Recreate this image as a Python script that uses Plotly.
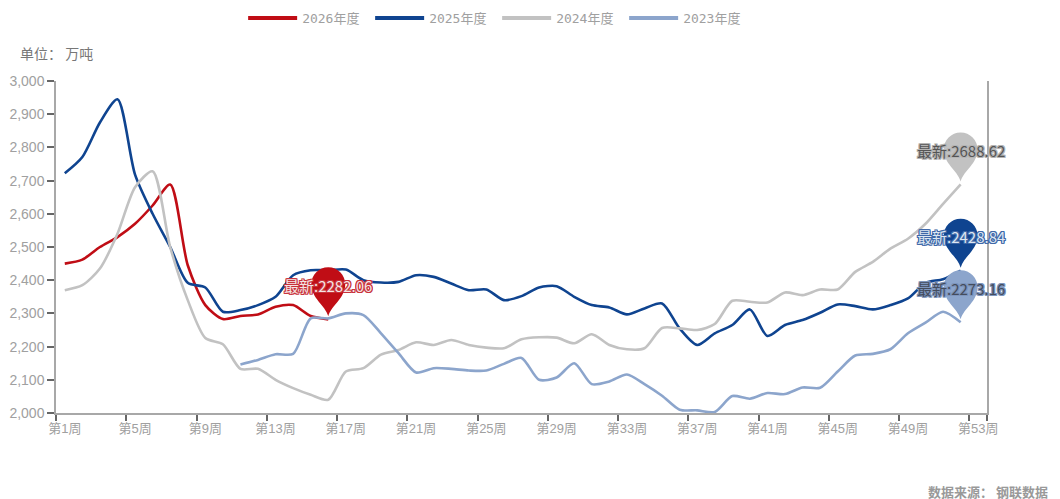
import plotly.graph_objects as go

weeks = list(range(1, 53))
names = ["2026年度", "2025年度", "2024年度", "2023年度"]
colors = ["#C00D15", "#0F4490", "#C2C2C2", "#8CA5CC"]
v2026 = [2450,2462,2500,2530,2570,2625,2688,2445,2325,2283,2292,2297,2320,2325,2292,2282.06]
v2025 = [2722,2771,2875,2945,2718,2600,2500,2392,2378,2305,2310,2325,2350,2415,2430,2430,2432,2400,2393,2395,
         2415,2410,2390,2370,2372,2340,2352,2378,2382,2350,2325,2318,2297,2315,2330,2255,2205,2240,2265,2312,
         2232,2265,2280,2302,2327,2322,2312,2325,2345,2392,2403,2428.84]
v2024 = [2370,2385,2435,2540,2680,2728,2500,2340,2226,2207,2133,2133,2100,2075,2055,2040,2125,2135,2176,2190,
         2213,2205,2220,2205,2197,2195,2222,2228,2227,2210,2237,2205,2192,2195,2256,2255,2250,2268,2338,2335,
         2333,2363,2355,2372,2372,2425,2455,2495,2525,2570,2630,2688.62]
v2023 = [None]*10 + [2146,2160,2177,2178,2285,2285,2300,2295,2240,2180,
         2122,2135,2133,2128,2128,2148,2166,2100,2107,2150,2087,2095,2116,2087,2052,2010,2008,2003,2051,2043,
         2060,2057,2077,2076,2125,2173,2178,2192,2240,2272,2305,2273.16]
series = [v2026, v2025, v2024, v2023]
y_ticks = [2000,2100,2200,2300,2400,2500,2600,2700,2800,2900,3000]
x_label_weeks = list(range(1, 54, 4))
x_labels = [f"第{w}周" for w in x_label_weeks]
label_text = ["#F4E4E4", "#DDE6F2", "#555555", "#444C5C"]
label_halo = ["#C8323A", "#3F68A8", "#B5B5B5", "#7D95BD"]

MONO = "DejaVu Sans Mono, Noto Sans CJK SC"
SANS = "Noto Sans CJK SC"
GREY = "#A0A0A0"
fig = go.Figure()

for name, col, vals in zip(names, colors, series):
    fig.add_trace(go.Scatter(x=weeks, y=vals, mode="lines", showlegend=False, hoverinfo="skip",
                             line=dict(color=col, width=2.6, shape="spline", smoothing=0.75)))
for name, col in zip(names, colors):
    fig.add_trace(go.Scatter(x=[None], y=[None], xaxis="x2", mode="lines", name=name,
                             line=dict(color=col, width=4)))

PIN = "M 0 3 C -3 14 -17 21 -17 35 C -17 44.4 -9.4 52 0 52 C 9.4 52 17 44.4 17 35 C 17 21 3 14 0 3 Z"
shapes = []
annotations = []
for vals, col in zip(series, colors):
    last = max(i for i, v in enumerate(vals) if v is not None)
    shapes.append(dict(type="path", path=PIN, xsizemode="pixel", ysizemode="pixel",
                       xref="x", yref="y", xanchor=weeks[last], yanchor=vals[last],
                       fillcolor=col, line=dict(width=0), layer="above"))
for vals, tc, hc in zip(series, label_text, label_halo):
    last = max(i for i, v in enumerate(vals) if v is not None)
    h = f"1px 0 0 {hc},-1px 0 0 {hc},0 1px 0 {hc},0 -1px 0 {hc},1px 1px 0 {hc},-1px -1px 0 {hc},1px -1px 0 {hc},-1px 1px 0 {hc}"
    annotations.append(dict(x=weeks[last], y=vals[last], xref="x", yref="y", yshift=34, showarrow=False,
                            text=f"最新:{vals[last]:.2f}",
                            font=dict(family=SANS, size=15, color=tc, shadow=h)))
annotations += [
    dict(xref="paper", yref="paper", x=-0.0397, y=1.084, xanchor="left", yanchor="middle", showarrow=False,
         borderpad=0, text="单位： 万吨", font=dict(family=SANS, size=14, color="#777777")),
    dict(xref="paper", yref="paper", x=1.0665, y=-0.235, xanchor="right", yanchor="middle", showarrow=False,
         borderpad=0, text="数据来源： 钢联数据", font=dict(family=SANS, size=13, color="#999999", weight=700)),
]

fig.update_layout(
    width=1060, height=499, autosize=False,
    margin=dict(l=56, r=73, t=81, b=86),
    paper_bgcolor="white", plot_bgcolor="white",
    font=dict(family=MONO, color=GREY, size=13),
    shapes=shapes, annotations=annotations,
    legend=dict(orientation="h", x=0.469, xanchor="center", xref="container", y=0.964, yanchor="middle", yref="container",
                itemwidth=49, entrywidth=63, entrywidthmode="pixels",
                font=dict(family=MONO, size=13, color=GREY), traceorder="normal", itemclick=False),
    xaxis=dict(range=[0.5, 53.5], tickmode="array", tickvals=x_label_weeks, ticktext=x_labels, automargin=False,
               ticks="", ticklabelstandoff=6, showgrid=False, zeroline=False, showline=False,
               tickfont=dict(size=13, color=GREY, family="Liberation Sans, Noto Sans CJK SC")),
    xaxis2=dict(range=[0.5, 53.5], overlaying="x", side="bottom", anchor="y", tickmode="array", automargin=False,
                tickvals=[w - 0.5 for w in x_label_weeks] + [53.5], ticktext=[""] * (len(x_label_weeks) + 1),
                ticks="outside", ticklen=6, tickwidth=1.5, tickcolor="#666666", showgrid=False, zeroline=False,
                showline=True, linecolor="#A8A8A8", linewidth=1.5),
    yaxis=dict(range=[2000, 3000], tickmode="array", tickvals=y_ticks, tickformat=",d", automargin=False,
               ticks="outside", ticklen=7, tickwidth=1.5, tickcolor="#666666", showgrid=False, zeroline=False,
               showline=True, mirror=True, linecolor="#A8A8A8", linewidth=1.5,
               tickfont=dict(size=14, color=GREY, family="Liberation Sans")),
)
fig.write_html("out.html", config={"displayModeBar": False}, post_script="document.body.style.margin='0';")
